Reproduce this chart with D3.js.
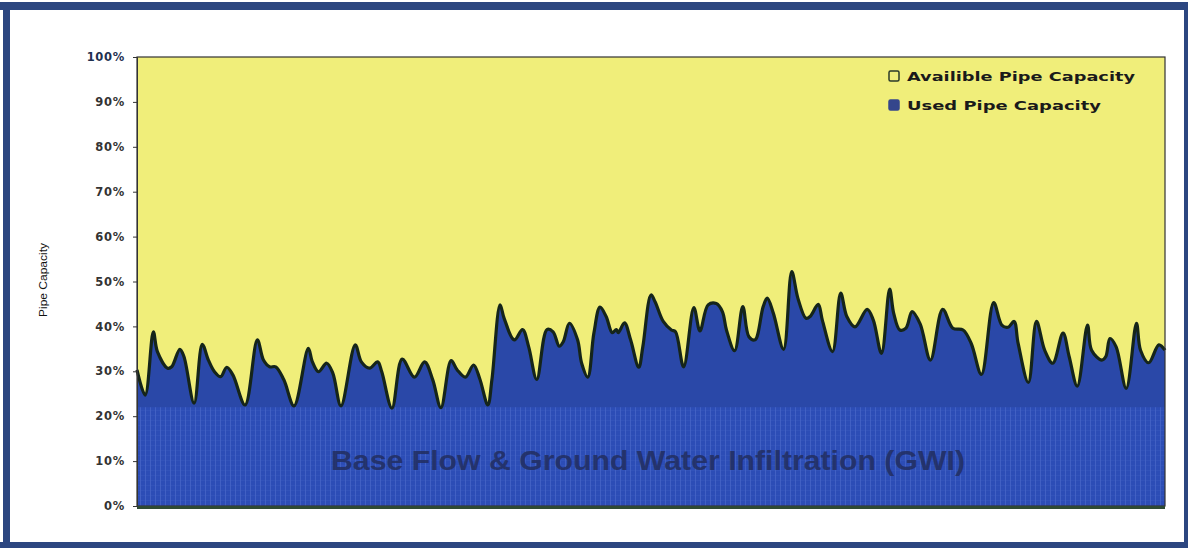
<!DOCTYPE html>
<html>
<head>
<meta charset="utf-8">
<script src="https://cdn.jsdelivr.net/npm/d3@7"></script>
<style>
  html, body { margin: 0; padding: 0; background: #ffffff; }
  svg { display: block; }
</style>
</head>
<body>
<svg id="chart" width="1188" height="548"></svg>
<script>
// ---- data ----
const hours = [0,4,8,10,15,17,21,23,28,32,35,38,41,44,47,53,59,62,65,68,72,77,84,86,89,93,96,100,107,110,114,118,120,125,130,136,141,145,149,154,157,161,165,168,172,174,178,180,185,189,192,196,201,204,207,209,212,216,218,221,224,227,230,233,235,236,239,242,246,248,252,254,258,262,264,268,273,276,280,284,287,289,293,297,300,303,307,309,312,317,321,324,328,330,334,336,341,345,348,352,358,361,365,369,371,374,377,380,384,389,395,400,405,409,414,420,424,427,430,432,437,441,445,449,454,457,461,466,468,473,475,477,480,485,490,492,496,501,504];
const usedPct = [30.3,24.7,38.8,34.4,30.7,31.0,34.9,33.3,22.9,36.0,32.5,29.9,28.8,30.9,29.2,22.5,37.0,32.5,31.0,31.0,28.1,22.3,35.1,32.1,29.9,31.8,29.6,22.3,35.9,32.1,30.7,32.1,29.9,21.8,32.7,28.7,32.1,28.1,21.9,32.4,30.3,28.7,31.4,28.4,22.5,28.1,44.8,41.8,37.0,39.3,35.5,28.2,39.3,38.8,35.6,36.6,40.7,37.0,31.8,28.7,38.5,44.3,42.2,38.6,39.3,38.6,40.8,37.0,30.9,35.5,47.0,45.5,41.1,39.2,38.8,31.0,44.2,39.0,44.8,45.1,43.3,39.2,34.6,44.4,37.7,37.0,44.4,46.3,42.9,34.9,52.2,46.3,41.8,42.2,44.9,41.4,34.4,47.4,42.2,39.9,43.8,41.4,34.0,48.3,42.9,39.2,39.6,43.3,40.5,32.5,43.8,39.6,39.2,36.2,29.3,45.3,40.3,39.8,41.1,36.2,27.5,41.1,34.7,31.8,38.5,33.3,26.7,40.3,34.7,32.5,33.3,37.3,35.5,26.2,40.7,34.7,31.9,35.9,34.7];
const baseFlowPct = 22;
const yTicks = [0,10,20,30,40,50,60,70,80,90,100];
const legendLabels = ["Availible Pipe Capacity", "Used Pipe Capacity"];
const yTitle = "Pipe Capacity";
const baseLabel = "Base Flow & Ground Water Infiltration (GWI)";

// ---- layout ----
const W = 1188, H = 548;
const plot = { left: 137, right: 1165, top: 57, bottom: 506 };
const colors = {
  frame: "#2c4680",
  yellow: "#f0ee7a",
  blue: "#2a48a8",
  blueBase: "#2c4db6",
  line: "#15251a"
};

const svg = d3.select("#chart");

// outer frame
svg.append("rect").attr("x", 0).attr("y", 0).attr("width", W).attr("height", H).attr("fill", "#fff");
svg.append("rect").attr("x", 0).attr("y", 2).attr("width", W).attr("height", 8).attr("fill", colors.frame);
svg.append("rect").attr("x", 3).attr("y", 2).attr("width", 7).attr("height", H - 2).attr("fill", colors.frame);
svg.append("rect").attr("x", W - 4).attr("y", 2).attr("width", 4).attr("height", H - 2).attr("fill", colors.frame);
svg.append("rect").attr("x", 0).attr("y", H - 6).attr("width", W).attr("height", 6).attr("fill", colors.frame);

const x = d3.scaleLinear().domain([0, 504]).range([plot.left, plot.right]);
const y = d3.scaleLinear().domain([0, 100]).range([plot.bottom, plot.top]);

const data = hours.map((h, i) => ({ h, v: usedPct[i] }));

// defs: pattern + clip
const defs = svg.append("defs");
const pat = defs.append("pattern").attr("id", "stripes").attr("patternUnits", "userSpaceOnUse")
  .attr("width", 5).attr("height", 5);
pat.append("rect").attr("width", 5).attr("height", 5).attr("fill", colors.blueBase);
pat.append("rect").attr("x", 0).attr("width", 1).attr("height", 5).attr("fill", "#5a78d4").attr("opacity", 0.45);
pat.append("rect").attr("y", 0).attr("width", 5).attr("height", 1).attr("fill", "#4464c6").attr("opacity", 0.25);

const area = d3.area().x(d => x(d.h)).y0(y(0)).y1(d => y(d.v)).curve(d3.curveCatmullRom.alpha(0.5));
const line = d3.line().x(d => x(d.h)).y(d => y(d.v)).curve(d3.curveCatmullRom.alpha(0.5));

defs.append("clipPath").attr("id", "usedClip").append("path").attr("d", area(data));

// plot background (available capacity)
svg.append("rect").attr("x", plot.left).attr("y", plot.top)
  .attr("width", plot.right - plot.left).attr("height", plot.bottom - plot.top)
  .attr("fill", colors.yellow);

// used capacity area
svg.append("path").attr("d", area(data)).attr("fill", colors.blue);

// base flow textured band
svg.append("rect").attr("x", plot.left).attr("y", y(baseFlowPct))
  .attr("width", plot.right - plot.left).attr("height", y(0) - y(baseFlowPct))
  .attr("fill", "url(#stripes)").attr("clip-path", "url(#usedClip)");

// outline line
svg.append("path").attr("d", line(data)).attr("fill", "none")
  .attr("stroke", colors.line).attr("stroke-width", 3.2).attr("stroke-linejoin", "round");

// plot border
svg.append("rect").attr("x", plot.left).attr("y", plot.top)
  .attr("width", plot.right - plot.left).attr("height", plot.bottom - plot.top)
  .attr("fill", "none").attr("stroke", "#333").attr("stroke-width", 1.2);
// bottom axis line
svg.append("line").attr("x1", plot.left).attr("x2", plot.right)
  .attr("y1", plot.bottom + 1.5).attr("y2", plot.bottom + 1.5)
  .attr("stroke", "#2e4a34").attr("stroke-width", 3);

// y axis
const yAxis = d3.axisLeft(y).tickValues(yTicks).tickSize(4).tickPadding(8)
  .tickFormat(d => d + "%");
const gy = svg.append("g").attr("transform", `translate(${plot.left},0)`).call(yAxis);
gy.select(".domain").attr("stroke", "#333");
gy.selectAll(".tick line").attr("stroke", "#333");
gy.selectAll(".tick text")
  .attr("font-family", "DejaVu Sans, sans-serif")
  .attr("font-weight", "bold")
  .attr("font-size", 11.5)
  .attr("letter-spacing", 0.7)
  .attr("fill", (d) => d === 100 ? "#1f3050" : "#333");

// y title
svg.append("text")
  .attr("transform", `translate(47,280) rotate(-90)`)
  .attr("text-anchor", "middle")
  .attr("font-family", "Liberation Sans, Arial, sans-serif")
  .attr("font-size", 10)
  .attr("textLength", 74)
  .attr("lengthAdjust", "spacingAndGlyphs")
  .attr("fill", "#111")
  .text(yTitle);

// base flow label
svg.append("text")
  .attr("x", 648).attr("y", 470)
  .attr("text-anchor", "middle")
  .attr("font-family", "Liberation Sans, Arial, sans-serif")
  .attr("font-weight", "bold")
  .attr("font-size", 27)
  .attr("textLength", 634)
  .attr("lengthAdjust", "spacingAndGlyphs")
  .attr("fill", "#222e60")
  .attr("opacity", 0.85)
  .text(baseLabel);

// legend
const legend = svg.append("g");
const legY = [76, 105];
const legSwatch = [{ fill: colors.yellow, stroke: "#2a3a2a" }, { fill: "#34468c", stroke: "#34468c" }];
legendLabels.forEach((lab, i) => {
  legend.append("rect").attr("x", 889).attr("y", legY[i] - 5).attr("width", 10).attr("height", 10)
    .attr("rx", 1.5)
    .attr("fill", legSwatch[i].fill).attr("stroke", legSwatch[i].stroke).attr("stroke-width", 1.5);
  legend.append("text").attr("x", 907).attr("y", legY[i] + 5)
    .attr("font-family", "DejaVu Sans, sans-serif")
    .attr("font-weight", "bold")
    .attr("font-size", 13)
    .attr("textLength", i === 0 ? 228 : 194)
    .attr("lengthAdjust", "spacingAndGlyphs")
    .attr("fill", "#1a1a1a")
    .text(lab);
});
</script>
</body>
</html>
